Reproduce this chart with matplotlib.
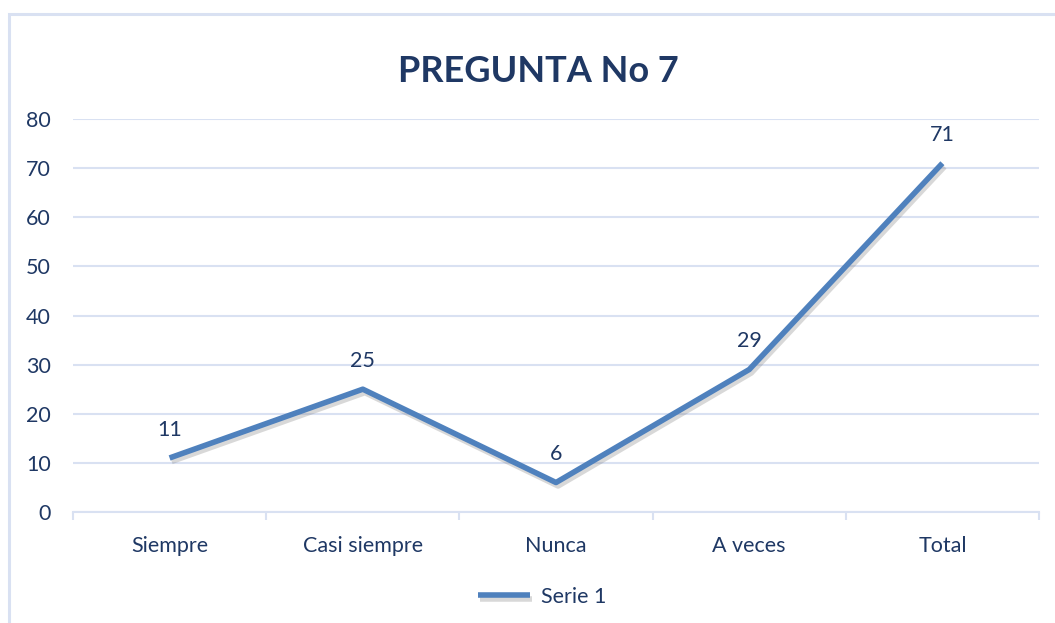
import matplotlib.pyplot as plt
import matplotlib.patheffects as pe
from matplotlib.patches import Rectangle
import numpy as np

categories = ["Siempre", "Casi siempre", "Nunca", "A veces", "Total"]
values = [11, 25, 6, 29, 71]
series_name = "Serie 1"
title = "PREGUNTA No 7"

text_color = "#1F3864"
line_color = "#4F81BD"
grid_color = "#D9E1F2"

plt.rcParams['font.family'] = ['Lato', 'DejaVu Sans']

W, H = 1055, 623
fig = plt.figure(figsize=(W / 100, H / 100), dpi=100)
# chart frame, cut off at right and bottom as in the screenshot
fig.patches.append(Rectangle((9 / W, -0.2), 1.2, 1.2 - 14 / H, transform=fig.transFigure,
                             fill=False, edgecolor=grid_color, linewidth=2.2))

ax = fig.add_axes([73 / W, 1 - 512 / H, (1039 - 73) / W, (512 - 119) / H])
x = np.arange(len(categories))
ax.plot(x, values, color=line_color, linewidth=4, solid_capstyle="butt",
        path_effects=[pe.SimpleLineShadow(offset=(1.5, -2.5), shadow_color="gray", alpha=0.3),
                      pe.Normal()], label=series_name, zorder=3)
for xi, v in zip(x, values):
    ax.annotate(str(v), (xi, v), xytext=(0, 13), textcoords="offset points",
                ha="center", va="bottom", fontsize=15.5, color=text_color)

ax.set_xlim(-0.5, len(categories) - 0.5)
ax.set_ylim(0, 80)
ax.set_yticks(range(0, 81, 10))
ax.grid(axis="y", color=grid_color, linewidth=1.5)
ax.set_axisbelow(True)
for s in ["top", "right", "left"]:
    ax.spines[s].set_visible(False)
ax.spines["bottom"].set_color(grid_color)
ax.spines["bottom"].set_linewidth(1.5)

ax.set_xticks(x)
ax.set_xticklabels(categories)
ax.set_xticks(np.arange(-0.5, len(categories)), minor=True)
ax.tick_params(axis="x", which="major", length=0, pad=17, labelsize=15.5, labelcolor=text_color)
ax.tick_params(axis="x", which="minor", length=6, width=1.5, color=grid_color)
ax.tick_params(axis="y", length=0, pad=16, labelsize=15.5, labelcolor=text_color)

fig.text(538 / W, 1 - 72 / H, title, ha="center", va="center", fontsize=26,
         fontweight="bold", color=text_color)

ax.legend(loc="center", bbox_to_anchor=(542 / W, 1 - 597 / H), bbox_transform=fig.transFigure,
          frameon=False, fontsize=15.5, labelcolor=text_color, handlelength=2.4, handletextpad=0.5)

fig.savefig("out.png", dpi=100)
